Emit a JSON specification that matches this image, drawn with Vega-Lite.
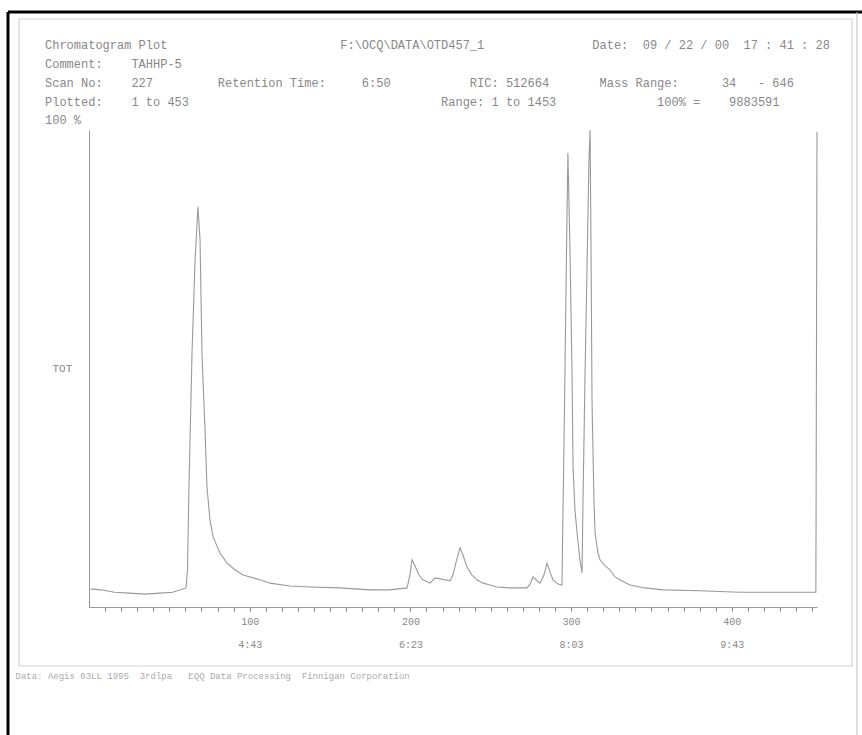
{
  "$schema": "https://vega.github.io/schema/vega-lite/v6.json",
  "width": 728,
  "height": 477,
  "autosize": {"type": "none"},
  "padding": {"left": 89, "top": 130, "right": 45, "bottom": 128},
  "background": "white",
  "config": {"view": {"stroke": null}, "font": "Liberation Mono"},
  "title": {
    "text": [
      "Chromatogram Plot\u00a0\u00a0\u00a0\u00a0\u00a0\u00a0\u00a0\u00a0\u00a0\u00a0\u00a0\u00a0\u00a0\u00a0\u00a0\u00a0\u00a0\u00a0\u00a0\u00a0\u00a0\u00a0\u00a0\u00a0F:\\OCQ\\DATA\\OTD457_1\u00a0\u00a0\u00a0\u00a0\u00a0\u00a0\u00a0\u00a0\u00a0\u00a0\u00a0\u00a0\u00a0\u00a0\u00a0Date:\u00a0\u00a009 / 22 / 00\u00a0\u00a017 : 41 : 28",
      "Comment:\u00a0\u00a0\u00a0\u00a0TAHHP-5",
      "Scan No:\u00a0\u00a0\u00a0\u00a0227\u00a0\u00a0\u00a0\u00a0\u00a0\u00a0\u00a0\u00a0\u00a0Retention Time:\u00a0\u00a0\u00a0\u00a0\u00a06:50\u00a0\u00a0\u00a0\u00a0\u00a0\u00a0\u00a0\u00a0\u00a0\u00a0\u00a0RIC: 512664\u00a0\u00a0\u00a0\u00a0\u00a0\u00a0\u00a0Mass Range:\u00a0\u00a0\u00a0\u00a0\u00a0\u00a034\u00a0\u00a0\u00a0- 646",
      "Plotted:\u00a0\u00a0\u00a0\u00a01 to 453\u00a0\u00a0\u00a0\u00a0\u00a0\u00a0\u00a0\u00a0\u00a0\u00a0\u00a0\u00a0\u00a0\u00a0\u00a0\u00a0\u00a0\u00a0\u00a0\u00a0\u00a0\u00a0\u00a0\u00a0\u00a0\u00a0\u00a0\u00a0\u00a0\u00a0\u00a0\u00a0\u00a0\u00a0\u00a0Range: 1 to 1453\u00a0\u00a0\u00a0\u00a0\u00a0\u00a0\u00a0\u00a0\u00a0\u00a0\u00a0\u00a0\u00a0\u00a0100% =\u00a0\u00a0\u00a0\u00a09883591",
      "\u00a0100 %"
    ],
    "anchor": "start",
    "frame": "group",
    "dx": -44,
    "dy": 121,
    "offset": 4,
    "font": "Liberation Mono",
    "fontSize": 12,
    "fontWeight": "normal",
    "color": "#888888",
    "lineHeight": 18.75
  },
  "resolve": {"axis": {"x": "independent", "y": "independent"}},
  "data": {
    "values": [
      {"scan": 1, "tic": 3.8}, {"scan": 7, "tic": 3.6}, {"scan": 16, "tic": 3.1}, {"scan": 25, "tic": 2.9},
      {"scan": 35, "tic": 2.7}, {"scan": 44, "tic": 2.9}, {"scan": 52, "tic": 3.1}, {"scan": 57, "tic": 3.6},
      {"scan": 60.4, "tic": 4.0}, {"scan": 61.3, "tic": 7.8}, {"scan": 62.2, "tic": 25.2}, {"scan": 64.1, "tic": 53.2},
      {"scan": 66, "tic": 72.7}, {"scan": 67.8, "tic": 83.9}, {"scan": 69.1, "tic": 76.9}, {"scan": 70.3, "tic": 53.2},
      {"scan": 72.2, "tic": 37.1}, {"scan": 73.4, "tic": 25.2}, {"scan": 75.3, "tic": 18.2}, {"scan": 77.2, "tic": 14.7},
      {"scan": 81.5, "tic": 11.3}, {"scan": 85.9, "tic": 9.2}, {"scan": 90.8, "tic": 7.8}, {"scan": 95.8, "tic": 6.7},
      {"scan": 100.2, "tic": 6.3}, {"scan": 106.4, "tic": 5.7}, {"scan": 112.6, "tic": 5.0}, {"scan": 125, "tic": 4.4},
      {"scan": 137.5, "tic": 4.2}, {"scan": 156, "tic": 4.0}, {"scan": 175, "tic": 3.6}, {"scan": 187, "tic": 3.6},
      {"scan": 197.9, "tic": 4.0}, {"scan": 199.7, "tic": 6.7}, {"scan": 201, "tic": 9.9}, {"scan": 202.9, "tic": 8.6},
      {"scan": 205.3, "tic": 6.7}, {"scan": 207.8, "tic": 5.7}, {"scan": 212.2, "tic": 5.0}, {"scan": 215.3, "tic": 6.1},
      {"scan": 218.4, "tic": 5.9}, {"scan": 221.5, "tic": 5.7}, {"scan": 224.6, "tic": 5.5}, {"scan": 226.5, "tic": 6.7},
      {"scan": 228.4, "tic": 9.4}, {"scan": 230.9, "tic": 12.4}, {"scan": 232.7, "tic": 10.9}, {"scan": 235.2, "tic": 8.4},
      {"scan": 238.3, "tic": 6.7}, {"scan": 241.4, "tic": 5.7}, {"scan": 245.2, "tic": 5.0}, {"scan": 249.5, "tic": 4.6},
      {"scan": 253.9, "tic": 4.2}, {"scan": 262, "tic": 4.0}, {"scan": 272.5, "tic": 4.0}, {"scan": 274.4, "tic": 4.8},
      {"scan": 276.3, "tic": 6.3}, {"scan": 278.8, "tic": 5.5}, {"scan": 280.6, "tic": 5.0}, {"scan": 283.1, "tic": 6.7},
      {"scan": 285, "tic": 9.2}, {"scan": 286.9, "tic": 7.3}, {"scan": 288.7, "tic": 5.7}, {"scan": 291.8, "tic": 4.8},
      {"scan": 294.3, "tic": 4.6}, {"scan": 294.9, "tic": 18.9}, {"scan": 295.6, "tic": 35.0}, {"scan": 296.2, "tic": 50.3},
      {"scan": 297.4, "tic": 81.1}, {"scan": 298, "tic": 95.2}, {"scan": 299.3, "tic": 74.8}, {"scan": 300.5, "tic": 50.3},
      {"scan": 301.2, "tic": 29.4}, {"scan": 302.4, "tic": 20.3}, {"scan": 303.7, "tic": 15.5}, {"scan": 305.5, "tic": 9.9},
      {"scan": 306.8, "tic": 7.1}, {"scan": 307.4, "tic": 22.4}, {"scan": 308.6, "tic": 47.6}, {"scan": 309.9, "tic": 71.3},
      {"scan": 311.1, "tic": 93.7}, {"scan": 311.8, "tic": 100}, {"scan": 312.4, "tic": 74.8}, {"scan": 313, "tic": 43.4},
      {"scan": 314.2, "tic": 22.4}, {"scan": 314.9, "tic": 15.5}, {"scan": 316.7, "tic": 11.3}, {"scan": 318, "tic": 9.9},
      {"scan": 321.1, "tic": 8.6}, {"scan": 324.2, "tic": 7.8}, {"scan": 327.3, "tic": 6.3}, {"scan": 330.4, "tic": 5.7},
      {"scan": 336.6, "tic": 4.6}, {"scan": 345.9, "tic": 4.0}, {"scan": 357.2, "tic": 3.6}, {"scan": 380, "tic": 3.4},
      {"scan": 405, "tic": 3.1}, {"scan": 432, "tic": 3.1}, {"scan": 442, "tic": 3.1}, {"scan": 452.3, "tic": 3.1},
      {"scan": 453, "tic": 99.6}
    ]
  },
  "layer": [
    {
      "mark": {"type": "line", "color": "#999999", "strokeWidth": 1.1},
      "encoding": {
        "x": {
          "field": "scan",
          "type": "quantitative",
          "scale": {"domain": [0, 453], "nice": false, "zero": false},
          "axis": {
            "values": [10, 20, 30, 40, 50, 60, 70, 80, 90, 100, 110, 120, 130, 140, 150, 160, 170, 180, 190, 200, 210, 220, 230, 240, 250, 260, 270, 280, 290, 300, 310, 320, 330, 340, 350, 360, 370, 380, 390, 400, 410, 420, 430, 440, 450],
            "grid": false,
            "domainColor": "#999999",
            "tickColor": "#808080",
            "tickWidth": 1,
            "tickRound": true,
            "tickSize": 4,
            "labelExpr": "datum.value % 100 == 0 ? [format(datum.value, 'd'), datum.value == 100 ? '4:43' : datum.value == 200 ? '6:23' : datum.value == 300 ? '8:03' : '9:43'] : ''",
            "labelFont": "Liberation Mono",
            "labelFontSize": 10,
            "labelColor": "#888888",
            "labelPadding": 5,
            "labelLineHeight": 23,
            "labelOverlap": false,
            "labelFlush": false,
            "title": "Data: Aegis 03LL 1995\u00a0\u00a03rdlpa\u00a0\u00a0\u00a0EQQ Data Processing\u00a0\u00a0Finnigan Corporation",
            "titleFont": "Liberation Mono",
            "titleFontSize": 9,
            "titleFontWeight": "normal",
            "titleColor": "#aaaaaa",
            "titleAnchor": "start",
            "titleAlign": "left",
            "titleBaseline": "middle",
            "titleX": -74,
            "titleY": 68,
            "encoding": {
              "ticks": {"update": {"y2": {"signal": "datum.value % 100 == 0 ? 10 : (datum.value % 50 == 0 ? 7 : 4)"}}}
            }
          }
        },
        "y": {
          "field": "tic",
          "type": "quantitative",
          "scale": {"domain": [0, 100], "nice": false, "zero": false},
          "axis": {
            "grid": false,
            "ticks": false,
            "labels": false,
            "domainColor": "#999999",
            "title": "TOT",
            "titleAngle": 0,
            "titleAlign": "left",
            "titleBaseline": "middle",
            "titleX": -37,
            "titleY": 238,
            "titleFont": "Liberation Mono",
            "titleFontSize": 11,
            "titleFontWeight": "normal",
            "titleColor": "#888888"
          }
        }
      }
    },
    {
      "data": {"values": [{}]},
      "mark": {"type": "rect", "filled": false, "stroke": "#d4d4d4", "strokeWidth": 1.2},
      "encoding": {
        "x": {"datum": -43.56, "type": "quantitative", "axis": null},
        "x2": {"datum": 474.8},
        "y": {"datum": 123.27, "type": "quantitative", "axis": null},
        "y2": {"datum": -12.37}
      }
    },
    {
      "data": {"values": [{}]},
      "mark": {"type": "rule", "color": "#000000", "strokeWidth": 3},
      "encoding": {
        "x": {"datum": -50.4, "type": "quantitative", "axis": null},
        "y": {"datum": 124.74, "type": "quantitative", "axis": null},
        "y2": {"datum": -26.83}
      }
    },
    {
      "data": {"values": [{}]},
      "mark": {"type": "rule", "color": "#000000", "strokeWidth": 3},
      "encoding": {
        "x": {"datum": -50.4, "type": "quantitative", "axis": null},
        "x2": {"datum": 482},
        "y": {"datum": 124.74, "type": "quantitative", "axis": null}
      }
    },
    {
      "data": {"values": [{}]},
      "mark": {"type": "rule", "color": "#bbbbbb", "strokeWidth": 1},
      "encoding": {
        "x": {"datum": 477.9, "type": "quantitative", "axis": null},
        "y": {"datum": 124.74, "type": "quantitative", "axis": null},
        "y2": {"datum": -26.83}
      }
    }
  ]
}
